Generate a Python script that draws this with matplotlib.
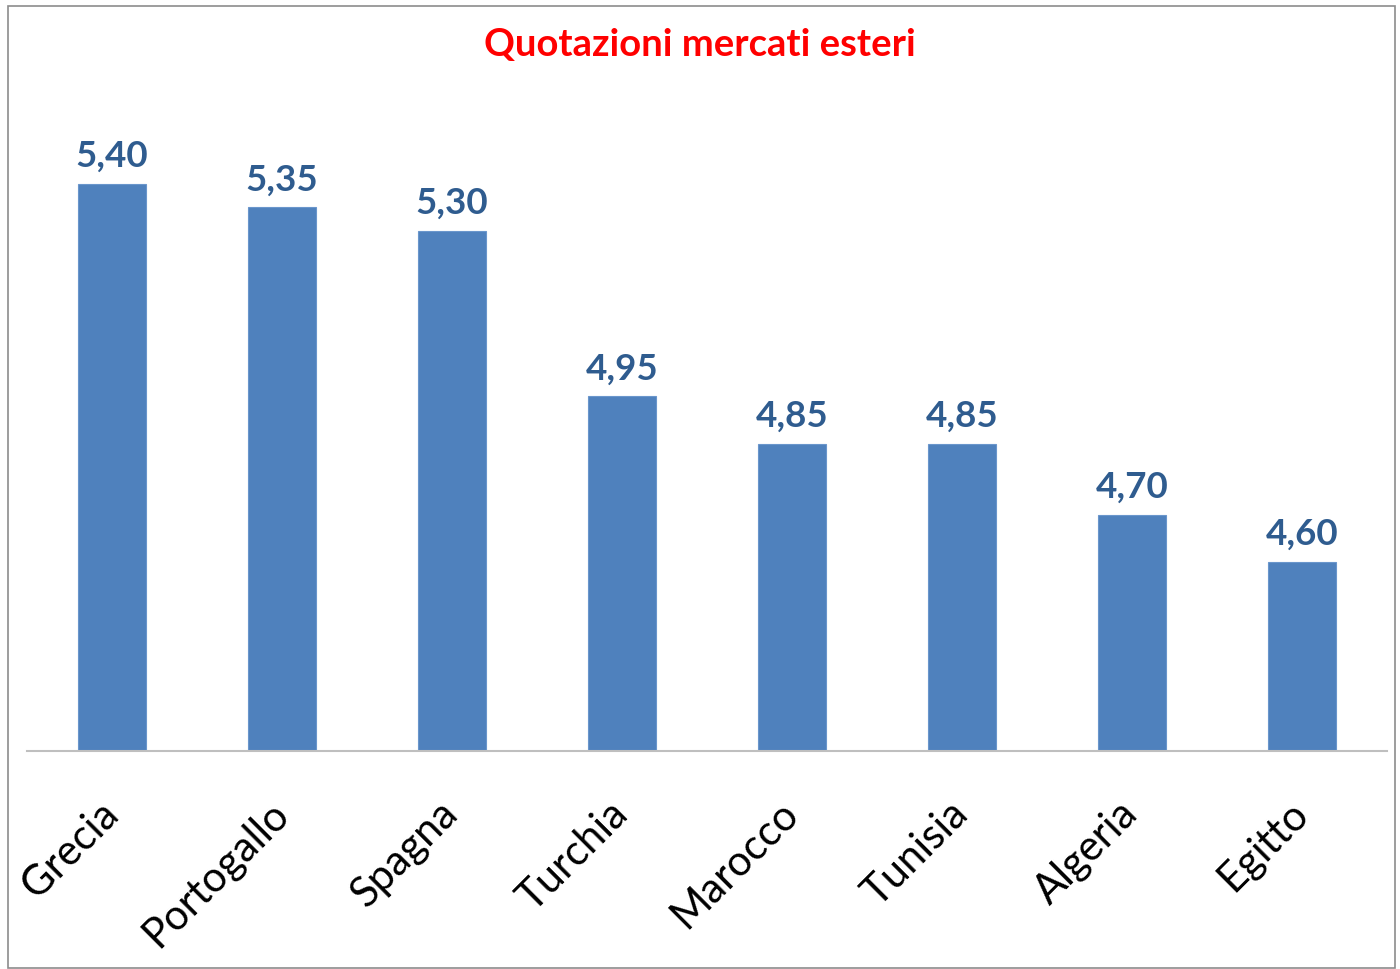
import matplotlib
matplotlib.use("Agg")
import matplotlib.pyplot as plt
from matplotlib.patches import Rectangle

paesi = ["Grecia", "Portogallo", "Spagna", "Turchia", "Marocco", "Tunisia", "Algeria", "Egitto"]
quotazioni = [5.40, 5.35, 5.30, 4.95, 4.85, 4.85, 4.70, 4.60]
etichette = ["5,40", "5,35", "5,30", "4,95", "4,85", "4,85", "4,70", "4,60"]

plt.rcParams['font.family'] = ['Lato', 'DejaVu Sans']

fig = plt.figure(figsize=(14, 9.7), dpi=100)
ax = fig.add_axes([27/1400, 1 - 752/970, 1360/1400, 662/970])

x = range(len(paesi))
ax.bar(x, [q - 4.2 for q in quotazioni], bottom=4.2, width=0.4, color="#4F81BD",
       edgecolor="#6A96CC", linewidth=0.8)
for xi, q, et in zip(x, quotazioni, etichette):
    ax.text(xi, q + 0.025, et, ha="center", va="bottom", fontsize=26.5,
            fontweight="bold", color="#2F5C8F")

ax.set_xlim(-0.5, len(paesi) - 0.5)
ax.set_ylim(4.2, 5.6)
ax.set_yticks([])
ax.set_xticks(list(x))
ax.set_xticklabels(paesi, rotation=45, ha="right", va="center",
                   rotation_mode="anchor", fontsize=30)
ax.tick_params(axis="x", length=0, pad=40)
for s in ["top", "left", "right"]:
    ax.spines[s].set_visible(False)
ax.spines["bottom"].set_color("#BFBFBF")
ax.spines["bottom"].set_linewidth(1.5)

fig.text(0.5, 1 - 45/970, "Quotazioni mercati esteri", ha="center", va="center",
         fontsize=27.5, fontweight="bold", color="#FF0000")

# cornice
fig.patches.append(Rectangle((8/1400, 1/970), 1387/1400, 962/970, transform=fig.transFigure,
                             fill=False, edgecolor="#8C8C8C", linewidth=1.2))

fig.savefig("out.png", dpi=100)
